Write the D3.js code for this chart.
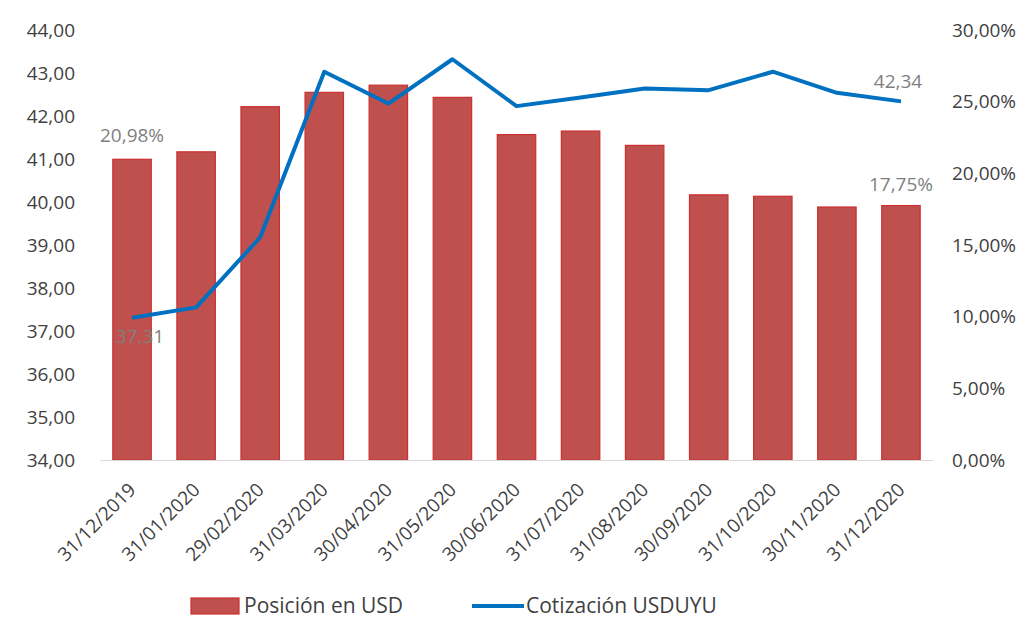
<!DOCTYPE html>
<html>
<head>
<meta charset="utf-8">
<script src="https://cdn.jsdelivr.net/npm/d3@7"></script>
<style>
  html, body { margin: 0; padding: 0; background: #ffffff; }
  svg { display: block; }
  text { font-family: "Open Sans", "DejaVu Sans", sans-serif; }
</style>
</head>
<body>
<svg id="chart" width="1023" height="618"></svg>
<script>
// ---- data ----
const categories = ["31/12/2019","31/01/2020","29/02/2020","31/03/2020","30/04/2020","31/05/2020",
  "30/06/2020","31/07/2020","31/08/2020","30/09/2020","31/10/2020","30/11/2020","31/12/2020"];
// Posición en USD (% , right axis)
const posicionUSD = [20.98, 21.5, 24.65, 25.65, 26.15, 25.3, 22.7, 22.95, 21.95, 18.5, 18.4, 17.65, 17.75];
// Cotización USDUYU (left axis)
const cotizacion = [37.31, 37.55, 39.18, 43.03, 42.29, 43.32, 42.23, 42.43, 42.64, 42.60, 43.03, 42.54, 42.34];
const leftTicks = [34,35,36,37,38,39,40,41,42,43,44];
const rightTicks = [0,5,10,15,20,25,30];
const seriesNames = ["Posición en USD", "Cotización USDUYU"];

// ---- layout ----
const svg = d3.select("#chart");
const plotLeft = 100, plotRight = 933, plotTop = 30, plotBottom = 460;
const fmt2 = v => d3.format(".2f")(v).replace(".", ",");
const tickFont = 19, labelColor = "#3f3f3f";

const x = d3.scaleBand().domain(categories).range([plotLeft, plotRight])
  .paddingInner(0.4).paddingOuter(0.2);
const yL = d3.scaleLinear().domain([34, 44]).range([plotBottom, plotTop]);
const yR = d3.scaleLinear().domain([0, 30]).range([plotBottom, plotTop]);

// left axis labels
const axL = svg.append("g").attr("transform", `translate(${plotLeft - 25},0)`)
  .call(d3.axisLeft(yL).tickValues(leftTicks).tickSize(0).tickPadding(0).tickFormat(fmt2));
axL.select(".domain").remove();
axL.selectAll("text").attr("font-size", tickFont).attr("fill", labelColor)
  .style("font-family", "'Open Sans', sans-serif");

// right axis labels
const axR = svg.append("g").attr("transform", `translate(${plotRight + 19},0)`)
  .call(d3.axisRight(yR).tickValues(rightTicks).tickSize(0).tickPadding(0).tickFormat(d => fmt2(d) + "%"));
axR.select(".domain").remove();
axR.selectAll("text").attr("font-size", tickFont).attr("fill", labelColor)
  .style("font-family", "'Open Sans', sans-serif");

// bars
svg.append("g").selectAll("rect").data(posicionUSD).join("rect")
  .attr("x", (d, i) => x(categories[i]))
  .attr("y", d => yR(d))
  .attr("width", x.bandwidth())
  .attr("height", d => yR(0) - yR(d))
  .attr("fill", "#c0504d")
  .attr("stroke", "#cc2f2f")
  .attr("stroke-width", 1.2);

// baseline
svg.append("line").attr("x1", plotLeft).attr("x2", plotRight)
  .attr("y1", plotBottom + 0.5).attr("y2", plotBottom + 0.5)
  .attr("stroke", "#d9d9d9").attr("stroke-width", 1.2);

// x axis labels
const axX = svg.append("g").attr("transform", `translate(0,${plotBottom})`)
  .call(d3.axisBottom(x).tickSize(0).tickPadding(0));
axX.select(".domain").remove();
axX.selectAll("text")
  .attr("font-size", tickFont).attr("fill", labelColor)
  .style("font-family", "'Open Sans', sans-serif")
  .attr("text-anchor", "end")
  .attr("transform", "translate(5,31) rotate(-45)")
  .attr("dy", 0).attr("y", 0);

// line
const line = d3.line().x((d, i) => x(categories[i]) + x.bandwidth() / 2).y(d => yL(d));
svg.append("path").datum(cotizacion)
  .attr("d", line).attr("fill", "none")
  .attr("stroke", "#0070c0").attr("stroke-width", 4)
  .attr("stroke-linejoin", "round");

// data labels
const cx = i => x(categories[i]) + x.bandwidth() / 2;
const lbl = svg.append("g").attr("font-size", 19).attr("fill", "#7f7f7f").attr("text-anchor", "middle");
const last = categories.length - 1;
lbl.append("text").attr("x", cx(0)).attr("y", yR(posicionUSD[0]) - 17).text(fmt2(posicionUSD[0]) + "%");
lbl.append("text").attr("x", cx(last)).attr("y", yR(posicionUSD[last]) - 15).text(fmt2(posicionUSD[last]) + "%");
lbl.append("text").attr("x", cx(0) + 8).attr("y", yL(cotizacion[0]) + 25).text(fmt2(cotizacion[0]));
lbl.append("text").attr("x", cx(last) - 3).attr("y", yL(cotizacion[last]) - 13).text(fmt2(cotizacion[last]));

// legend
const leg = svg.append("g").attr("font-size", 21).attr("fill", labelColor);
leg.append("rect").attr("x", 191).attr("y", 598).attr("width", 48).attr("height", 16)
  .attr("fill", "#c0504d").attr("stroke", "#cc2f2f").attr("stroke-width", 1.2);
leg.append("text").attr("x", 244).attr("y", 613).text(seriesNames[0]);
leg.append("line").attr("x1", 472).attr("x2", 524).attr("y1", 606).attr("y2", 606)
  .attr("stroke", "#0070c0").attr("stroke-width", 4);
leg.append("text").attr("x", 526).attr("y", 613).text(seriesNames[1]);
</script>
</body>
</html>
